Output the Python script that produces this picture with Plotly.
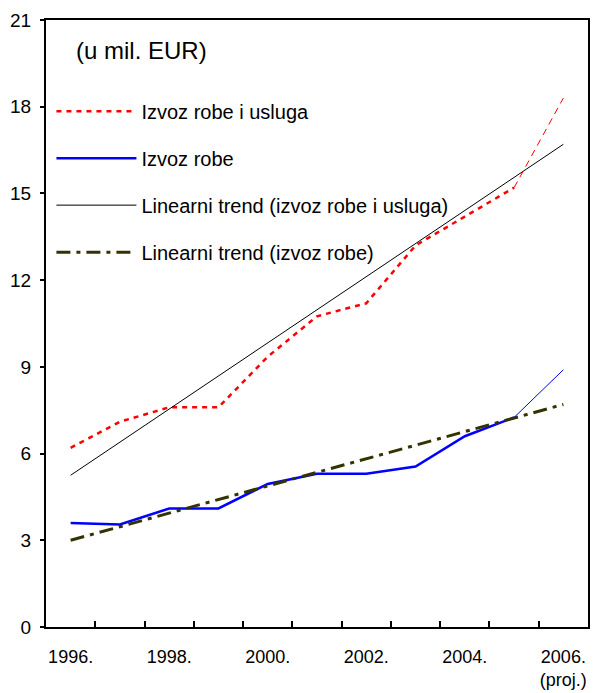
import plotly.graph_objects as go

# Data (mil. EUR)
years = ["1996", "1997", "1998", "1999", "2000", "2001", "2002", "2003", "2004", "2005", "2006"]
year_labels = ["1996.", "", "1998.", "", "2000.", "", "2002.", "", "2004.", "", "2006.<br>(proj.)"]
exports_goods_services = [6.2, 7.1, 7.6, 7.6, 9.35, 10.75, 11.2, 13.2, 14.2, 15.2, 18.3]
exports_goods = [3.6, 3.55, 4.1, 4.1, 4.95, 5.3, 5.3, 5.55, 6.6, 7.25, 8.9]
trend_years = ["1996", "2006"]
trend_goods_services = [5.25, 16.7]
trend_goods = [3.0, 7.7]

n_hist = 10  # years up to 2005 are actual, 2006 is a projection

FONT = "Liberation Sans, Arial, sans-serif"

fig = go.Figure()

fig.add_trace(go.Scatter(
    x=years[:n_hist], y=exports_goods_services[:n_hist], mode="lines",
    name="Izvoz robe i usluga", legendgroup="a",
    line=dict(color="#ff0000", width=2.5, dash="5px,5px"),
))
fig.add_trace(go.Scatter(
    x=years[:n_hist], y=exports_goods[:n_hist], mode="lines",
    name="Izvoz robe", legendgroup="b",
    line=dict(color="#0000ff", width=2.5),
))
fig.add_trace(go.Scatter(
    x=trend_years, y=trend_goods_services, mode="lines",
    name="Linearni trend (izvoz robe i usluga)", legendgroup="c",
    line=dict(color="#000000", width=1),
))
fig.add_trace(go.Scatter(
    x=trend_years, y=trend_goods, mode="lines",
    name="Linearni trend (izvoz robe)", legendgroup="d",
    line=dict(color="#333300", width=3, dash="14px,6px,4px,6px"),
))
# projection segments
fig.add_trace(go.Scatter(
    x=years[n_hist - 1:], y=exports_goods_services[n_hist - 1:], mode="lines",
    showlegend=False, line=dict(color="#ff0000", width=1, dash="7px,5px"),
))
fig.add_trace(go.Scatter(
    x=years[n_hist - 1:], y=exports_goods[n_hist - 1:], mode="lines",
    showlegend=False, line=dict(color="#0000ff", width=1),
))

fig.add_annotation(
    text="(u mil. EUR)", xref="paper", yref="paper", x=0.052, y=0.95,
    xanchor="left", yanchor="middle", showarrow=False,
    font=dict(family=FONT, size=24, color="#000000"),
)

fig.update_layout(
    width=595, height=693,
    margin=dict(l=46, r=7, t=20, b=66, autoexpand=False),
    paper_bgcolor="#ffffff", plot_bgcolor="#ffffff",
    font=dict(family=FONT, size=18, color="#000000"),
    showlegend=True,
    legend=dict(
        x=0.01, y=0.882, xanchor="left", yanchor="top",
        bgcolor="rgba(0,0,0,0)", font=dict(family=FONT, size=20, color="#000000"),
        itemwidth=80, tracegroupgap=18, traceorder="grouped",
    ),
)
fig.update_xaxes(
    type="category", categoryorder="array", categoryarray=years,
    range=[-0.5, 10.5], tickmode="array", tickvals=years, ticktext=year_labels,
    tickson="boundaries", ticks="inside", ticklen=6, tickwidth=2, tickcolor="#000000",
    showline=True, linewidth=2, linecolor="#000000", mirror=True,
    showgrid=False, zeroline=False, ticklabelstandoff=12, tickangle=0, automargin=False,
    tickfont=dict(family=FONT, size=18),
)
fig.update_yaxes(
    range=[0, 21], tickmode="linear", tick0=0, dtick=3,
    ticks="outside", ticklen=4, tickwidth=2, tickcolor="#000000",
    showline=True, linewidth=2, linecolor="#000000", mirror=True,
    showgrid=False, zeroline=False, ticklabelstandoff=5, automargin=False,
    tickfont=dict(family=FONT, size=19),
)

fig.write_html("out.html")
